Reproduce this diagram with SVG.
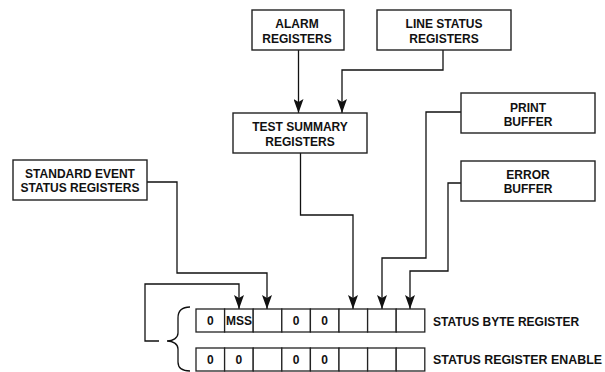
<svg xmlns="http://www.w3.org/2000/svg" width="605" height="372" viewBox="0 0 605 372">
<defs>
<style>
.box{fill:#fff;stroke:#222;stroke-width:1.4}
.t{font-family:"Liberation Sans",Arial,sans-serif;font-weight:bold;font-size:12px;fill:#111;text-anchor:middle}
.lbl{font-family:"Liberation Sans",Arial,sans-serif;font-weight:bold;font-size:12px;fill:#111}
.ln{fill:none;stroke:#111;stroke-width:1.3}
.arr{marker-end:url(#ah)}
.cell{fill:#fff;stroke:#222;stroke-width:1.3}
</style>
<marker id="ah" markerUnits="userSpaceOnUse" markerWidth="14" markerHeight="10" viewBox="0 0 14 10" refX="14" refY="5" orient="auto">
<path d="M0,0 L14,5 L0,10 L3,5 Z" fill="#111"/>
</marker>
</defs>
<rect width="605" height="372" fill="#fff"/>

<g id="connectors">
<path class="ln arr" d="M298.5,50 V113"/>
<path class="ln arr" d="M443,50 V70 H342 V113"/>
<path class="ln arr" d="M300.5,153 V215 H353 V309"/>
<path class="ln arr" d="M147,182 H177 V273 H267 V309"/>
<path class="ln arr" d="M461,112 H426 V258 H382 V309"/>
<path class="ln arr" d="M461,183 H448 V271 H410 V309"/>
<path class="ln arr" d="M159,341 H145 V284 H239 V309"/>
<path class="ln" d="M190,307 C182,307 178,311 178,318 V333 C178,338 173,341 167,341 C173,341 178,344 178,349 V362 C178,368 182,371 190,371"/>
</g>

<g id="alarm">
<rect class="box" x="252" y="10" width="92" height="40"/>
<text class="t" x="297" y="28">ALARM</text>
<text class="t" x="297" y="43">REGISTERS</text>
</g>
<g id="linestatus">
<rect class="box" x="377" y="10" width="134" height="40"/>
<text class="t" x="444" y="28">LINE STATUS</text>
<text class="t" x="444" y="43">REGISTERS</text>
</g>
<g id="testsummary">
<rect class="box" x="233" y="113" width="134" height="40"/>
<text class="t" x="300" y="131">TEST SUMMARY</text>
<text class="t" x="300" y="146">REGISTERS</text>
</g>
<g id="printbuffer">
<rect class="box" x="461" y="93" width="134" height="40"/>
<text class="t" x="528" y="111.5">PRINT</text>
<text class="t" x="528" y="126">BUFFER</text>
</g>
<g id="errorbuffer">
<rect class="box" x="461" y="161" width="134" height="40"/>
<text class="t" x="528" y="178.5">ERROR</text>
<text class="t" x="528" y="193">BUFFER</text>
</g>
<g id="stdevent">
<rect class="box" x="13" y="160" width="134" height="40"/>
<text class="t" x="80" y="177.5">STANDARD EVENT</text>
<text class="t" x="80" y="192">STATUS REGISTERS</text>
</g>

<g id="statusbyte">
<rect class="cell" x="196" y="309" width="28.6" height="23"/>
<rect class="cell" x="224.6" y="309" width="28.6" height="23"/>
<rect class="cell" x="253.2" y="309" width="28.6" height="23"/>
<rect class="cell" x="281.8" y="309" width="28.6" height="23"/>
<rect class="cell" x="310.4" y="309" width="28.6" height="23"/>
<rect class="cell" x="339" y="309" width="28.6" height="23"/>
<rect class="cell" x="367.6" y="309" width="28.6" height="23"/>
<rect class="cell" x="396.2" y="309" width="28.6" height="23"/>
<text class="t" x="210.3" y="325">0</text>
<text class="t" x="239" y="325" textLength="26" lengthAdjust="spacingAndGlyphs">MSS</text>
<text class="t" x="296.1" y="325">0</text>
<text class="t" x="324.7" y="325">0</text>
<text class="lbl" x="433" y="326">STATUS BYTE REGISTER</text>
</g>
<g id="statusenable">
<rect class="cell" x="196" y="348" width="28.6" height="23"/>
<rect class="cell" x="224.6" y="348" width="28.6" height="23"/>
<rect class="cell" x="253.2" y="348" width="28.6" height="23"/>
<rect class="cell" x="281.8" y="348" width="28.6" height="23"/>
<rect class="cell" x="310.4" y="348" width="28.6" height="23"/>
<rect class="cell" x="339" y="348" width="28.6" height="23"/>
<rect class="cell" x="367.6" y="348" width="28.6" height="23"/>
<rect class="cell" x="396.2" y="348" width="28.6" height="23"/>
<text class="t" x="210.3" y="364">0</text>
<text class="t" x="238.9" y="364">0</text>
<text class="t" x="296.1" y="364">0</text>
<text class="t" x="324.7" y="364">0</text>
<text class="lbl" x="433" y="363.5" textLength="169" lengthAdjust="spacingAndGlyphs">STATUS REGISTER ENABLE</text>
</g>
</svg>
